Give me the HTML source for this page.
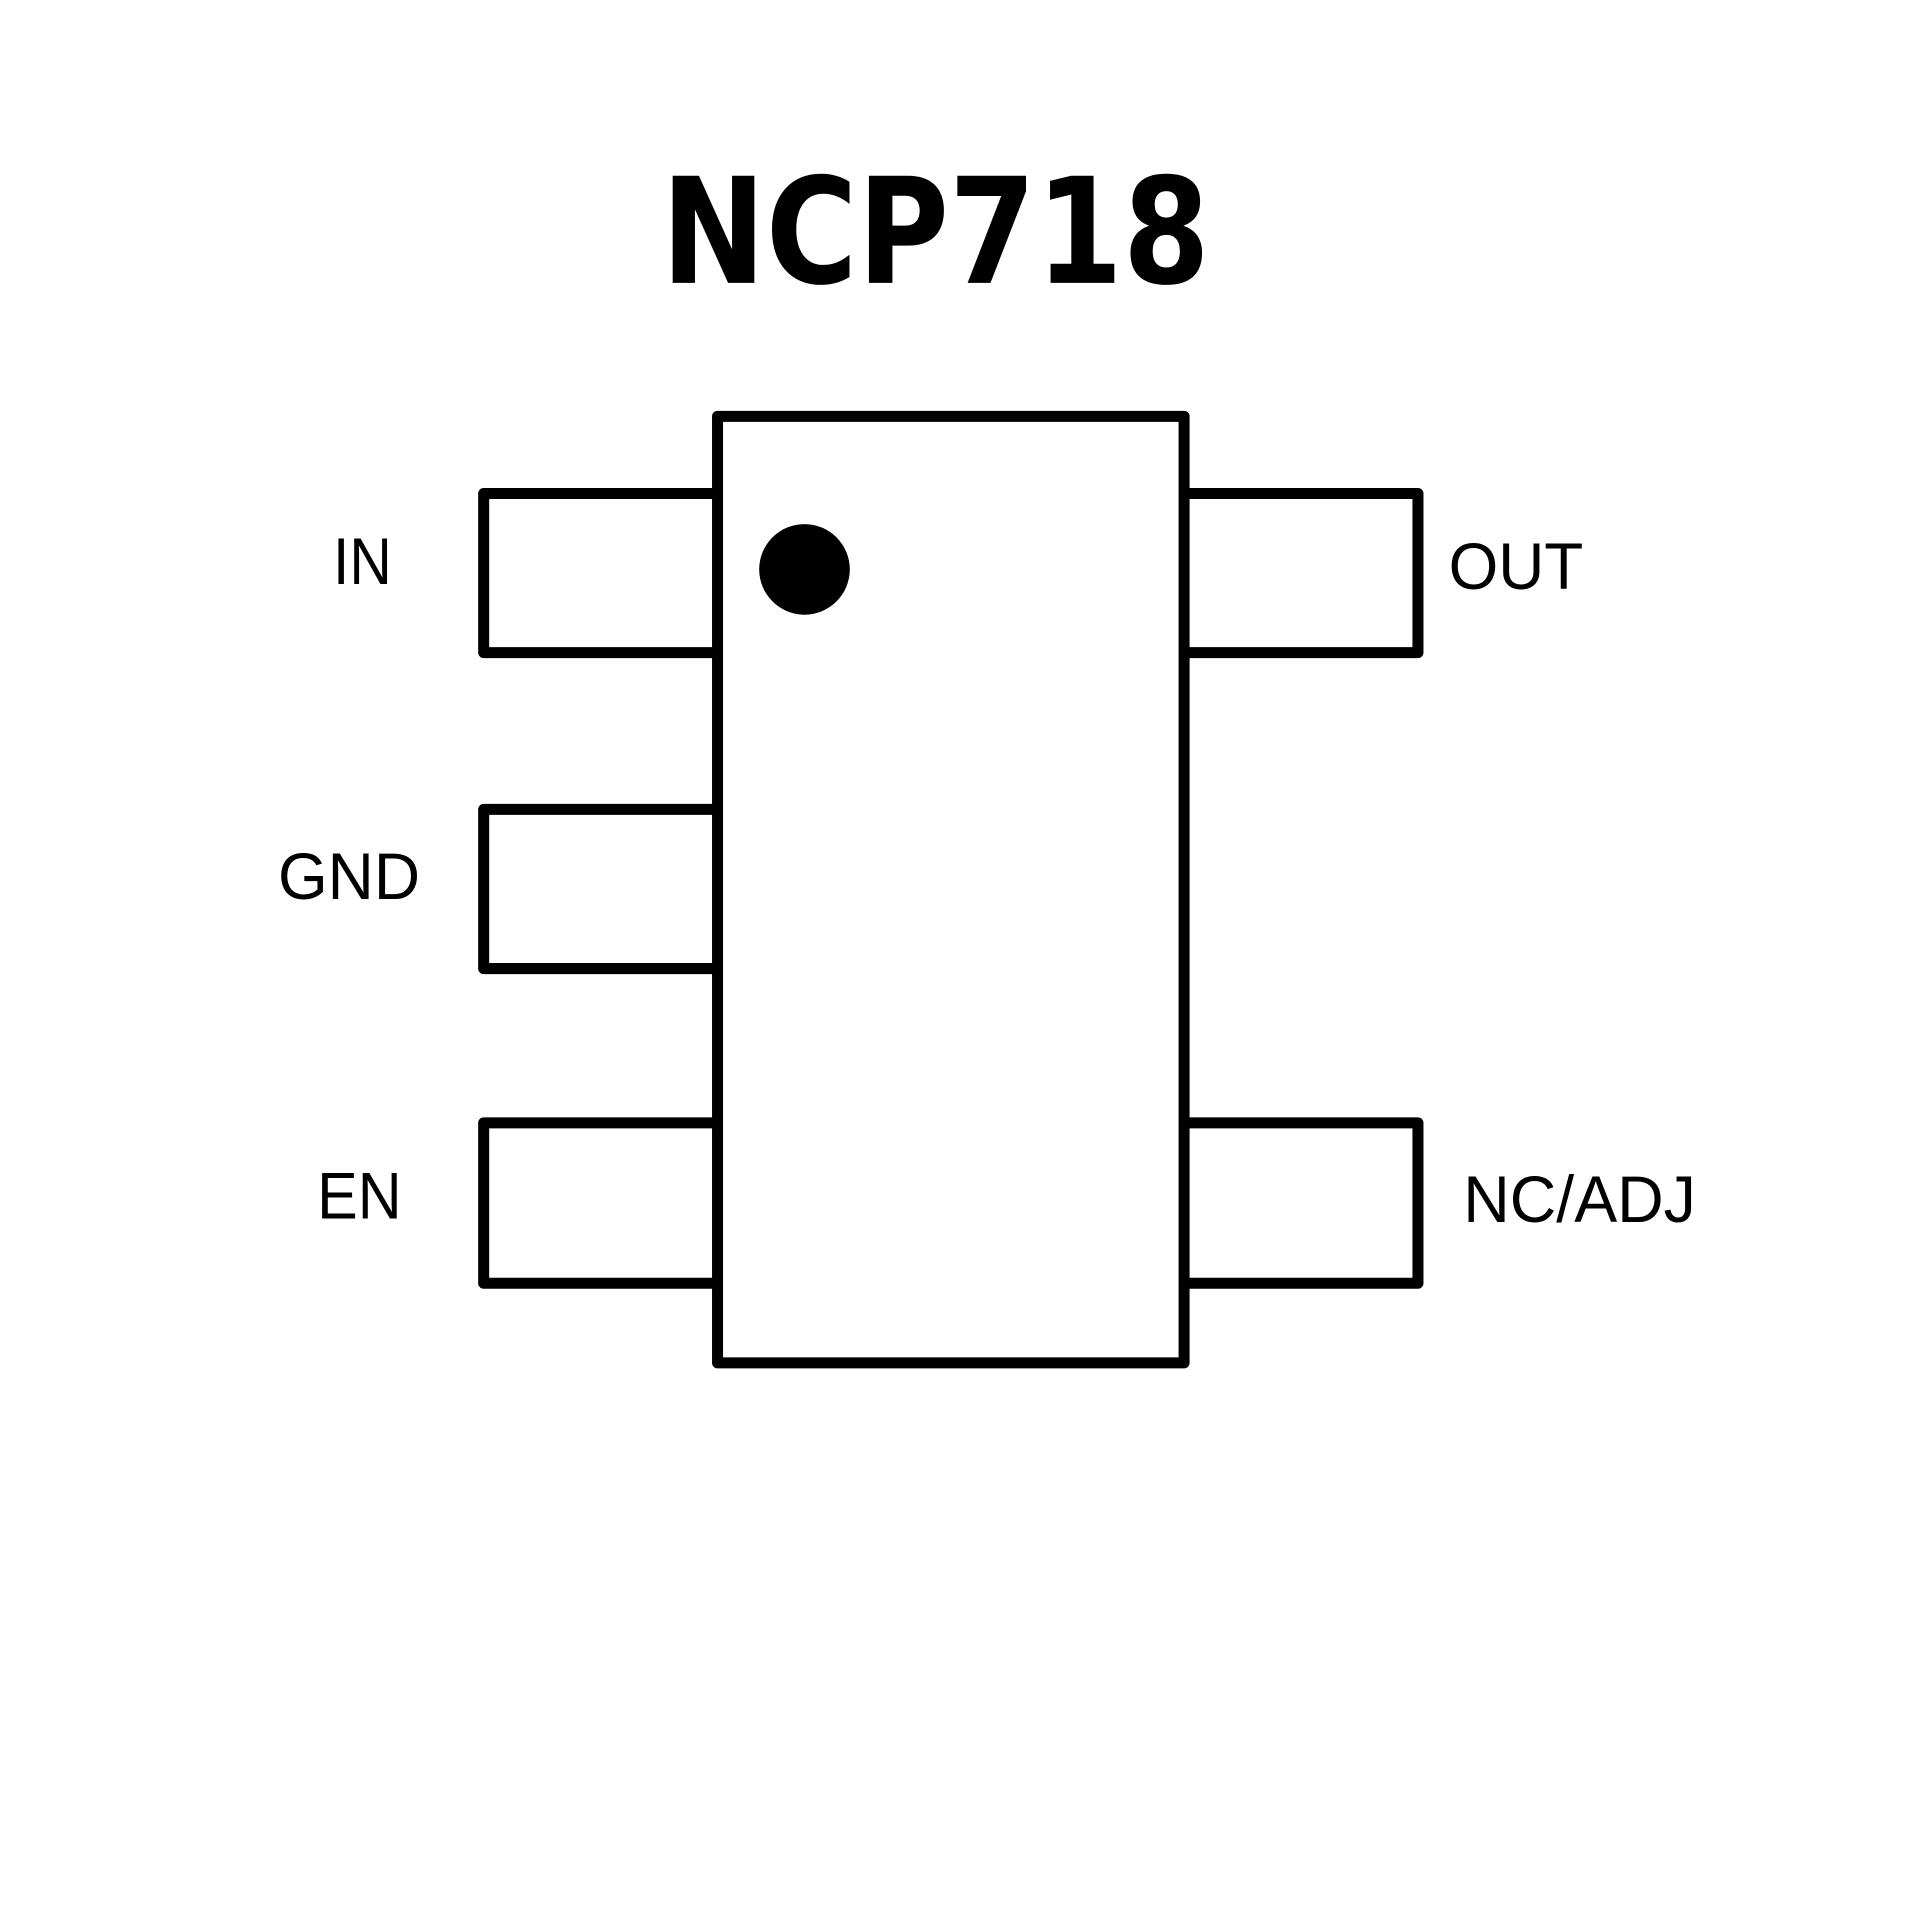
<!DOCTYPE html>
<html><head><meta charset="utf-8"><style>html,body{margin:0;padding:0;background:#fff}svg{display:block}</style></head>
<body>
<svg width="1920" height="1920" viewBox="0 0 1568 1568" xmlns="http://www.w3.org/2000/svg">
<rect width="1568" height="1568" fill="#fff"/>
<g fill="none" stroke="#000" stroke-width="9" stroke-linejoin="round">
<rect x="586" y="340" width="381" height="773"/>
<path d="M586 403 H395 V533 H586"/>
<path d="M586 661 H395 V791 H586"/>
<path d="M586 917 H395 V1048 H586"/>
<path d="M967 403 H1158 V533 H967"/>
<path d="M967 917 H1158 V1048 H967"/>
</g>
<circle cx="657" cy="465" r="37" fill="#000"/>
<text x="540" y="231" font-family="DejaVu Sans, Liberation Sans, sans-serif" font-weight="bold" font-size="120" textLength="448" lengthAdjust="spacingAndGlyphs">NCP718</text>
<g font-family="Liberation Sans, Arial, sans-serif" font-size="54">
<text x="272" y="477" textLength="48" lengthAdjust="spacingAndGlyphs">IN</text>
<text x="227" y="734" textLength="116" lengthAdjust="spacingAndGlyphs">GND</text>
<text x="259" y="995" textLength="69" lengthAdjust="spacingAndGlyphs">EN</text>
<text x="1183" y="481" textLength="110" lengthAdjust="spacingAndGlyphs">OUT</text>
<text x="1195" y="998" textLength="190" lengthAdjust="spacingAndGlyphs">NC/ADJ</text>
</g>
</svg>
</body></html>
